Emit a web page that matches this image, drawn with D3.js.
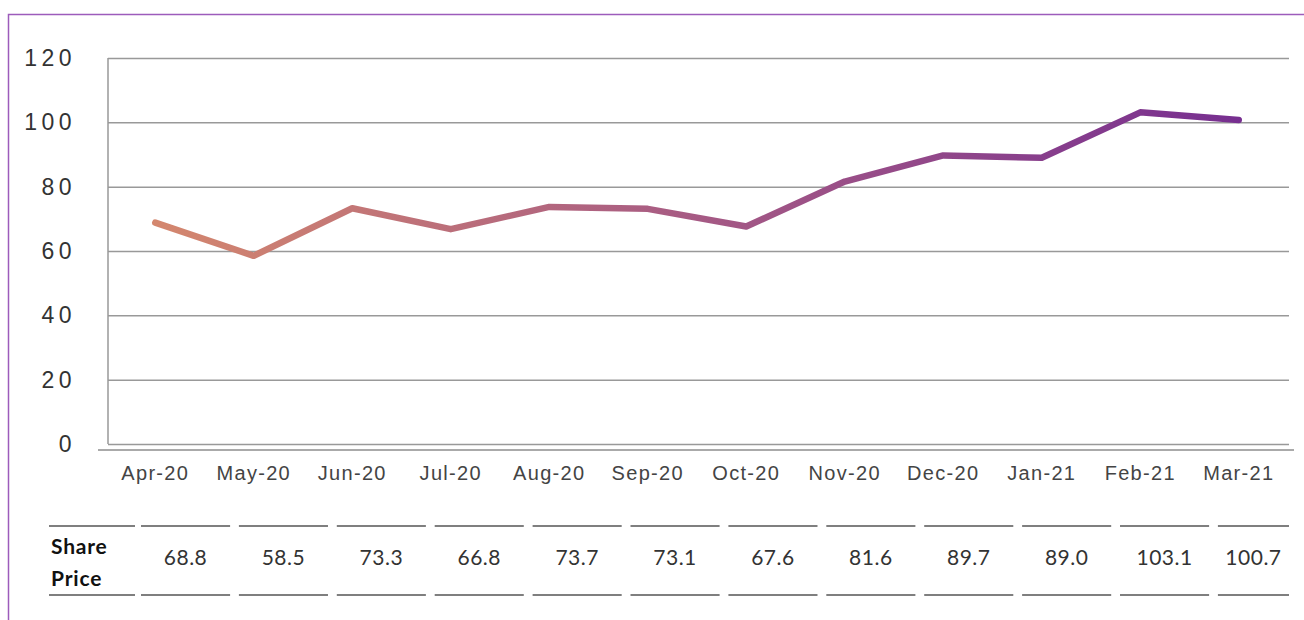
<!DOCTYPE html>
<html>
<head>
<meta charset="utf-8">
<script src="https://cdn.jsdelivr.net/npm/d3@7"></script>
<style>
  body { margin: 0; background: #fff; }
  svg { display: block; font-family: Lato, "Open Sans", sans-serif; }
</style>
</head>
<body>
<svg></svg>
<script>
const months = ["Apr-20", "May-20", "Jun-20", "Jul-20", "Aug-20", "Sep-20",
  "Oct-20", "Nov-20", "Dec-20", "Jan-21", "Feb-21", "Mar-21"]
const sharePrice = [68.8, 58.5, 73.3, 66.8, 73.7, 73.1, 67.6, 81.6, 89.7, 89.0, 103.1, 100.7]
const yTicks = [0, 20, 40, 60, 80, 100, 120]
const rowLabel = ["Share", "Price"]

const data = months.map((m, i) => ({ month: m, value: sharePrice[i] }))

const svg = d3.select("svg")
  .attr("width", 1304)
  .attr("height", 620)

// purple frame
svg.append("path")
  .attr("d", "M8.5,640 V14.5 H1320")
  .attr("fill", "none")
  .attr("stroke", "#9d5cbb")
  .attr("stroke-width", 1.5)

const scaleX = d3.scaleBand()
  .domain(months)
  .range([106, 1288])

const scaleY = d3.scaleLinear()
  .domain([0, 120])
  .range([444, 58])

// gridlines
const axisY = d3.axisLeft(scaleY)
  .tickValues(yTicks)
  .tickSizeInner(-1182)
  .tickSizeOuter(0)
  .tickFormat(d3.format("d"))

const axisYGroup = svg.append("g")
  .attr("transform", "translate(108, 0)")
  .call(axisY)

axisYGroup.select(".domain").remove()
axisYGroup.selectAll("line")
  .attr("stroke", "#999")
  .attr("stroke-width", 1.5)
  .attr("x1", 0)
  .attr("x2", 1181)
axisYGroup.selectAll("text")
  .attr("fill", "#333")
  .attr("font-size", 23)
  .attr("letter-spacing", 4.5)
  .attr("x", -32)

// plot box left edge
svg.append("line")
  .attr("x1", 108).attr("x2", 108)
  .attr("y1", 58).attr("y2", 444)
  .attr("stroke", "#999")
  .attr("stroke-width", 1.5)

// x axis
const axisX = d3.axisBottom(scaleX)
  .tickSize(0)
  .tickPadding(16)

const axisXGroup = svg.append("g")
  .attr("transform", "translate(0, 450)")
  .call(axisX)

axisXGroup.select(".domain")
  .attr("d", "M98,0 H1294")
  .attr("stroke", "#aaa")
  .attr("stroke-width", 2)
axisXGroup.selectAll("text")
  .attr("fill", "#444")
  .attr("font-size", 20)
  .attr("letter-spacing", 1.3)

// line with gradient
const cx = d => scaleX(d.month) + scaleX.bandwidth() / 2

const grad = svg.append("defs").append("linearGradient")
  .attr("id", "lineGrad")
  .attr("gradientUnits", "userSpaceOnUse")
  .attr("x1", cx(data[0]))
  .attr("x2", cx(data[data.length - 1]))
  .attr("y1", 0).attr("y2", 0)

grad.append("stop").attr("offset", "0%").attr("stop-color", "#d4876e")
grad.append("stop").attr("offset", "50%").attr("stop-color", "#a65a84")
grad.append("stop").attr("offset", "100%").attr("stop-color", "#772f90")

const line = d3.line()
  .x(cx)
  .y(d => scaleY(d.value))

svg.append("path")
  .datum(data)
  .attr("d", line)
  .attr("fill", "none")
  .attr("stroke", "url(#lineGrad)")
  .attr("stroke-width", 6.5)
  .attr("stroke-linecap", "round")
  .attr("stroke-linejoin", "round")

// data table
const scaleT = d3.scaleBand()
  .domain(months)
  .range([141, 1307])
  .paddingInner(0.09)

const table = svg.append("g")

const segs = [{ x1: 49, x2: 135 }].concat(months.map(m => ({
  x1: scaleT(m), x2: Math.min(scaleT(m) + scaleT.bandwidth(), 1289)
})))

table.selectAll("line.top")
  .data(segs)
  .enter()
  .append("line")
  .attr("x1", d => d.x1).attr("x2", d => d.x2)
  .attr("y1", 526).attr("y2", 526)
  .attr("stroke", "#555")
  .attr("stroke-width", 1.5)

table.selectAll("line.bottom")
  .data(segs)
  .enter()
  .append("line")
  .attr("x1", d => d.x1).attr("x2", d => d.x2)
  .attr("y1", 595).attr("y2", 595)
  .attr("stroke", "#555")
  .attr("stroke-width", 1.5)

table.selectAll("text.label")
  .data(rowLabel)
  .enter()
  .append("text")
  .attr("x", 51)
  .attr("y", (d, i) => 554 + i * 32)
  .attr("font-size", 21)
  .attr("font-weight", 700)
  .attr("letter-spacing", 0.8)
  .attr("fill", "#111")
  .text(d => d)

table.selectAll("text.value")
  .data(data)
  .enter()
  .append("text")
  .attr("x", d => {
    const x2 = Math.min(scaleT(d.month) + scaleT.bandwidth(), 1289)
    return (scaleT(d.month) + x2) / 2
  })
  .attr("y", 565)
  .attr("text-anchor", "middle")
  .attr("font-size", 21)
  .attr("letter-spacing", 0.5)
  .attr("fill", "#333")
  .text(d => d.value.toFixed(1))
</script>
</body>
</html>
